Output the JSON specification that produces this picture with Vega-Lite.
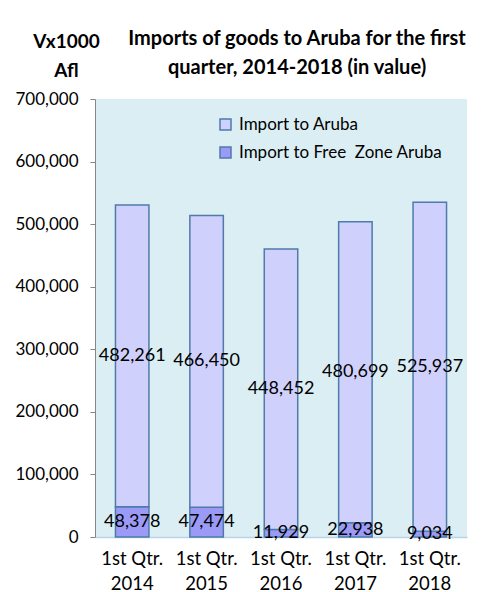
{
  "$schema": "https://vega.github.io/schema/vega-lite/v6.json",
  "width": 372,
  "height": 438,
  "autosize": "none",
  "padding": {"left": 95, "top": 99, "right": 17, "bottom": 55},
  "background": "white",
  "title": {
    "text": ["Imports of goods to Aruba for the first", "quarter, 2014-2018 (in value)"],
    "anchor": "middle",
    "frame": "group",
    "dx": 16,
    "offset": -46,
    "fontSize": 20,
    "fontWeight": "bold",
    "font": "Lato",
    "color": "#000000",
    "lineHeight": 29
  },
  "data": {
    "values": [
      {"period": "1st Qtr. 2014", "series": "Import to Free\u00a0 Zone Aruba", "value": 48378},
      {"period": "1st Qtr. 2014", "series": "Import to Aruba", "value": 482261},
      {"period": "1st Qtr. 2015", "series": "Import to Free\u00a0 Zone Aruba", "value": 47474},
      {"period": "1st Qtr. 2015", "series": "Import to Aruba", "value": 466450},
      {"period": "1st Qtr. 2016", "series": "Import to Free\u00a0 Zone Aruba", "value": 11929},
      {"period": "1st Qtr. 2016", "series": "Import to Aruba", "value": 448452},
      {"period": "1st Qtr. 2017", "series": "Import to Free\u00a0 Zone Aruba", "value": 22938},
      {"period": "1st Qtr. 2017", "series": "Import to Aruba", "value": 480699},
      {"period": "1st Qtr. 2018", "series": "Import to Free\u00a0 Zone Aruba", "value": 9034},
      {"period": "1st Qtr. 2018", "series": "Import to Aruba", "value": 525937}
    ]
  },
  "transform": [
    {"stack": "value", "groupby": ["period"], "sort": [{"field": "series", "order": "descending"}], "as": ["v0", "v1"]},
    {"calculate": "(datum.v0 + datum.v1) / 2", "as": "vmid"}
  ],
  "layer": [
    {
      "mark": {"type": "bar", "stroke": "#4F7BAA", "strokeWidth": 1.5},
      "encoding": {
        "x": {
          "field": "period", "type": "nominal",
          "scale": {"paddingInner": 0.55, "paddingOuter": 0.275},
          "axis": {
            "title": null,
            "labelAngle": 0,
            "labelExpr": "['1st Qtr.', slice(datum.label, 9)]",
            "labelFont": "Lato",
            "labelFontSize": 18.5,
            "labelColor": "#000000",
            "labelLineHeight": 25,
            "labelPadding": 12,
            "ticks": false,
            "domainColor": "#B9D4E6",
            "domainWidth": 1.5
          }
        },
        "y": {
          "field": "v1", "type": "quantitative",
          "scale": {"domain": [0, 700000], "nice": false},
          "axis": {
            "title": ["Vx1000", "Afl"],
            "titleAngle": 0,
            "titleAlign": "center",
            "titleBaseline": "top",
            "titleX": -29,
            "titleY": -67,
            "titleFont": "Lato",
            "titleFontSize": 19,
            "titleFontWeight": "bold",
            "titleColor": "#000000",
            "titleLineHeight": 29,
            "values": [0, 100000, 200000, 300000, 400000, 500000, 600000, 700000],
            "labelExpr": "format(datum.value, ',')",
            "labelFont": "Lato",
            "labelFontSize": 17,
            "labelColor": "#000000",
            "labelPadding": 12,
            "tickSize": 5,
            "tickColor": "#868686",
            "domainColor": "#868686",
            "grid": false
          }
        },
        "y2": {"field": "v0"},
        "color": {
          "field": "series", "type": "nominal",
          "scale": {"domain": ["Import to Aruba", "Import to Free\u00a0 Zone Aruba"], "range": ["#D0D0FC", "#9B9BF7"]},
          "legend": {
            "title": null,
            "orient": "none",
            "legendX": 122,
            "legendY": 17,
            "symbolType": "square",
            "symbolSize": 121,
            "symbolStrokeColor": "#4F7BAA",
            "symbolStrokeWidth": 1.5,
            "symbolOpacity": 1,
            "labelFont": "Lato",
            "labelFontSize": 17,
            "labelLimit": 400,
            "labelColor": "#000000",
            "labelOffset": 5,
            "rowPadding": 10
          }
        }
      }
    },
    {
      "mark": {"type": "text", "font": "Lato", "fontSize": 18, "color": "#000000", "baseline": "middle"},
      "encoding": {
        "x": {"field": "period", "type": "nominal"},
        "y": {"field": "vmid", "type": "quantitative"},
        "text": {"field": "value", "type": "quantitative", "format": ","}
      }
    }
  ],
  "config": {
    "view": {"fill": "#DBEEF3", "stroke": null}
  }
}
